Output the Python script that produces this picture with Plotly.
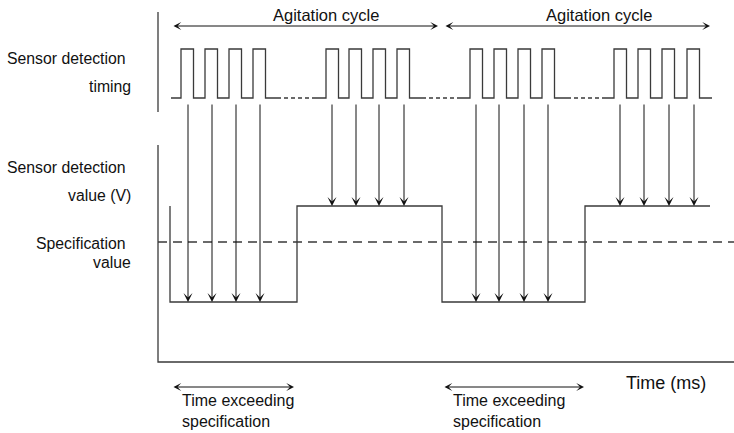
import plotly.graph_objects as go

# schematic timing data: time in ms, sensor value in V
pulse_rises = [
    [23, 47, 71, 95],
    [168, 191, 215, 239],
    [312, 336, 360, 384],
    [456, 480, 504, 529],
]
pulse_width = 12.5
lane_start = [13, 157, 302, 444]
lane_end = [119, 264, 409, 554]

sample_times = [
    [30, 54, 78, 102],
    [174, 198, 221, 246],
    [318, 341, 366, 390],
    [462, 486, 511, 536],
]
sample_levels = [1.0, 2.6, 1.0, 2.6]

signal_t = [12, 12, 139, 284, 427, 552]
signal_v = [2.6, 1.0, 2.6, 1.0, 2.6, 2.6]
spec_level = 2.0
time_end = 576

cycle_spans = [(14, 280), (286, 552)]
exceed_spans = [(14, 136), (285, 426)]

# layout helpers: map picture rows / columns to axis units
X0, Y0, PX_PER_V = 158, 362, 60


def vy(py):
    return (Y0 - py) / PX_PER_V


def tx(px):
    return px - X0


LANE_LOW, LANE_HIGH = vy(98), vy(49)
ARROW_TOP = vy(103)
FONT = "Liberation Sans, Arial, sans-serif"
LINE = "#3a3a3a"

fig = go.Figure()

# axes of the diagram
fig.add_trace(go.Scatter(x=[0, 0, None, 0, 0, time_end],
                         y=[vy(12), vy(112), None, vy(145), 0, 0],
                         mode="lines", line=dict(color=LINE, width=1.3)))

# detection timing pulses
for i, rises in enumerate(pulse_rises):
    xs, ys = [lane_start[i]], [LANE_LOW]
    for r in rises:
        xs += [r, r + pulse_width]
        ys += [LANE_HIGH, LANE_LOW]
    xs.append(lane_end[i])
    ys.append(LANE_LOW)
    fig.add_trace(go.Scatter(x=xs, y=ys, mode="lines", line_shape="hv",
                             line=dict(color=LINE, width=1.3)))
    if i + 1 < len(pulse_rises):
        fig.add_trace(go.Scatter(x=[lane_end[i], lane_start[i + 1]], y=[LANE_LOW, LANE_LOW],
                                 mode="lines", line=dict(color=LINE, width=1.3, dash="4px,3px")))

# specification level
fig.add_trace(go.Scatter(x=[0, time_end], y=[spec_level, spec_level], mode="lines",
                         line=dict(color=LINE, width=1.3, dash="9px,6px")))

# sensor detection value
fig.add_trace(go.Scatter(x=signal_t, y=signal_v, mode="lines", line_shape="hv",
                         line=dict(color=LINE, width=1.3)))

ann = []
# sampling arrows
for times, lvl in zip(sample_times, sample_levels):
    for t in times:
        ann.append(dict(x=t, y=lvl, ax=t, ay=ARROW_TOP, xref="x", yref="y", axref="x", ayref="y",
                        text="", showarrow=True, arrowhead=3, arrowsize=1.5, arrowwidth=1,
                        arrowcolor="#111"))

# agitation cycle spans
for (a, b), cx in zip(cycle_spans, [326, 599]):
    ann.append(dict(x=b, y=vy(26), ax=a, ay=vy(26), xref="x", yref="y", axref="x", ayref="y",
                    text="", showarrow=True, arrowside="end+start", arrowhead=3, arrowsize=1.3,
                    arrowwidth=1, arrowcolor="#111"))
    ann.append(dict(x=tx(cx), y=vy(15), text="Agitation cycle", showarrow=False,
                    xanchor="center", yanchor="middle", font=dict(size=16.5, color="#111", family=FONT)))

# time exceeding specification spans
for a, b in exceed_spans:
    ann.append(dict(x=b, y=vy(387), ax=a, ay=vy(387), xref="x", yref="y", axref="x", ayref="y",
                    text="", showarrow=True, arrowside="end+start", arrowhead=3, arrowsize=1.3,
                    arrowwidth=1, arrowcolor="#111"))
    ann.append(dict(x=a + 8, y=vy(411), text="Time exceeding<br>specification", showarrow=False,
                    xanchor="left", yanchor="middle", align="left",
                    font=dict(size=16, color="#111", family=FONT)))

ann.append(dict(x=tx(624), y=vy(383), text="Time (ms)", showarrow=False, xanchor="left",
                yanchor="middle", font=dict(size=18, color="#111", family=FONT)))

# left side labels
labels = [("Sensor detection", 127, 58), ("timing", 132, 86),
          ("Sensor detection", 127, 167), ("value (V)", 132, 195),
          ("Specification", 127, 243), ("value", 132, 262)]
for txt, px, py in labels:
    ann.append(dict(x=tx(px + 1), y=vy(py), text=txt, showarrow=False, xanchor="right",
                    yanchor="middle", font=dict(size=15.8, color="#111", family=FONT)))

fig.update_layout(
    width=734, height=433,
    margin=dict(l=0, r=0, t=0, b=0),
    paper_bgcolor="white", plot_bgcolor="white",
    showlegend=False,
    annotations=ann,
    xaxis=dict(range=[tx(0), tx(734)], visible=False, fixedrange=True),
    yaxis=dict(range=[vy(433), vy(0)], visible=False, fixedrange=True),
)

# drop the browser's default body margin so the figure fills the window
fig.write_html("out.html", config={"displayModeBar": False},
               post_script="document.body.style.margin='0';document.body.style.overflow='hidden';")
